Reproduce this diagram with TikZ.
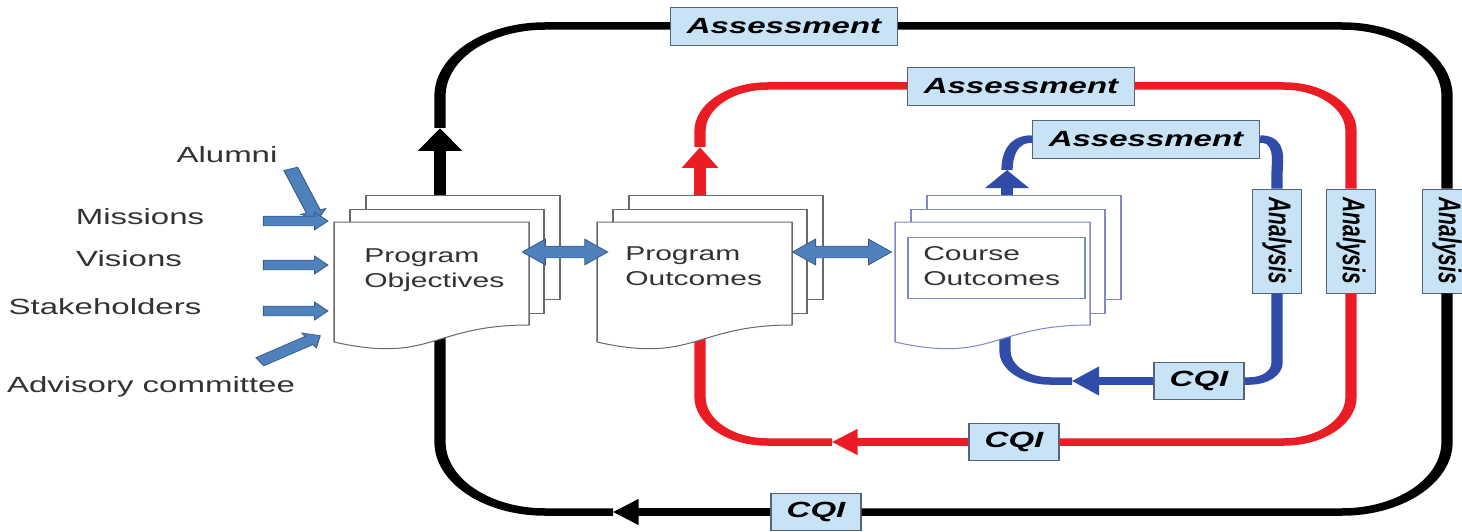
\documentclass[tikz,border=0pt]{standalone}
\usepackage{fontspec}
\setmainfont{Liberation Sans}
\usepackage{graphicx}
\usetikzlibrary{arrows.meta,shapes.arrows}

\definecolor{tagfill}{RGB}{200,227,246}
\definecolor{tagedge}{RGB}{85,100,125}
\definecolor{loopred}{RGB}{236,28,36}
\definecolor{loopblue}{RGB}{46,76,168}
\definecolor{fatblue}{RGB}{79,129,189}
\definecolor{fatedge}{RGB}{56,93,138}
\definecolor{pagegray}{RGB}{105,105,105}
\definecolor{pagelav}{RGB}{128,136,200}
\definecolor{inktext}{RGB}{50,50,50}

% stack of three pages, #1,#2 = top left corner of the front page
\newcommand{\docpages}[3]{%
  \draw[#3,fill=white,line width=1pt] (#1+32,#2-27) rectangle (#1+226,#2+77);
  \draw[#3,fill=white,line width=1pt] (#1+16,#2-13) rectangle (#1+210,#2+91);
  \draw[#3,fill=white,line width=1pt] (#1,#2) -- (#1+195,#2) -- (#1+195,#2+103)
    .. controls (#1+97.5,#2+103) and (#1+97.5,#2+142) .. (#1,#2+120) -- cycle;
}

\tikzset{
  stagebox/.style={draw=tagedge,fill=tagfill,line width=0.9pt,inner sep=0pt,text=black,
    font=\fontsize{22}{22}\selectfont\bfseries\itshape},
  assess/.style={stagebox,minimum width=151pt,minimum height=38pt},
  cqi/.style={stagebox,minimum width=60pt,minimum height=37pt},
  analysis/.style={stagebox,minimum width=33pt,minimum height=104pt,
    font=\fontsize{21}{21}\selectfont\bfseries\itshape},
  blackloop/.style={line width=7.5pt,black},
  redloop/.style={line width=7.5pt,loopred},
  blueloop/.style={line width=7.5pt,loopblue},
  doctext/.style={anchor=west,inner sep=0pt,align=left,text=inktext,
    font=\fontsize{20}{24.5}\selectfont},
  srclabel/.style={anchor=base,inner sep=0pt,text=inktext,font=\fontsize{22}{22}\selectfont},
  feed/.style={single arrow,draw=fatedge,fill=fatblue,line width=0.7pt,minimum height=43pt,
    inner xsep=0pt,inner ysep=4.5pt,single arrow head extend=4pt},
  link/.style={double arrow,draw=fatedge,fill=fatblue,line width=0.7pt,
    inner xsep=0pt,inner ysep=5.5pt,double arrow head extend=7pt,double arrow tip angle=80},
}

\begin{document}
\begin{tikzpicture}
\useasboundingbox (0,0) rectangle (1462pt,-532pt);
\begin{scope}[transform canvas={xscale=1.5},x=0.666667pt,y=-1pt]
  % labels on the loops
  \node[assess] (bA) at (784,26) {Assessment};
  \node[assess] (rA) at (1021,86) {Assessment};
  \node[assess] (uA) at (1146,139) {Assessment};
  \node[analysis] (bN) at (1447,241) {\rotatebox{-90}{Analysis}};
  \node[analysis] (rN) at (1351,241) {\rotatebox{-90}{Analysis}};
  \node[analysis] (uN) at (1277,241) {\rotatebox{-90}{Analysis}};
  \node[cqi] (bC) at (816,512) {CQI};
  \node[cqi] (rC) at (1014,442) {CQI};
  \node[cqi] (uC) at (1199,381) {CQI};

  \coordinate (bTip) at (613,512);
  \coordinate (bLeft) at (440,300);
  \coordinate (bUp) at (440,128);
  \coordinate (rTip) at (832,442);
  \coordinate (rLeft) at (700,300);
  \coordinate (rUp) at (700,147);
  \coordinate (uTip) at (1072,381);
  \coordinate (uBot) at (1005,330);
  \coordinate (uBase) at (1007,205);
  \coordinate (uUp) at (1007,170);
  \coordinate (uTurn) at (1277,175);

  % outer loop
  \draw[blackloop,-{Triangle[width=25pt,length=17pt]}] (bC.west) -- (bTip);
  \draw[blackloop,rounded corners=70pt] (bTip) -| (bLeft);
  \draw[blackloop,-{Triangle[width=28pt,length=23pt]}] (bLeft) -- (bUp);
  \draw[blackloop,rounded corners=70pt] (bUp) |- (bA.west);
  \draw[blackloop,rounded corners=70pt] (bA.east) -| (bN.north);
  \draw[blackloop,rounded corners=70pt] (bN.south) |- (bC.east);

  % middle loop
  \draw[redloop,-{Triangle[width=25pt,length=17pt]}] (rC.west) -- (rTip);
  \draw[redloop,rounded corners=45pt] (rTip) -| (rLeft);
  \draw[redloop,-{Triangle[width=23pt,length=21pt]}] (rLeft) -- (rUp);
  \draw[redloop,rounded corners=45pt] (rUp) |- (rA.west);
  \draw[redloop,rounded corners=45pt] (rA.east) -| (rN.north);
  \draw[redloop,rounded corners=45pt] (rN.south) |- (rC.east);

  % inner loop
  \draw[blueloop,-{Triangle[width=28pt,length=18pt]}] (uC.west) -- (uTip);
  \draw[blueloop,rounded corners=30pt] (uTip) -| (uBot);
  \draw[blueloop,-{Triangle[width=28pt,length=18pt]}] (uBase) -- (uUp);
  \draw[blueloop] (uUp) to[out=90,in=180] (uA.west);
  \draw[blueloop] (uA.east) to[out=0,in=90] (uTurn) -- (uN.north);
  \draw[blueloop,rounded corners=18pt] (uN.south) |- (uC.east);

  % documents
  \docpages{334}{222}{pagegray}
  \docpages{597}{222}{pagegray}
  \docpages{895}{222}{pagelav}
  \draw[pagelav,line width=1pt] (908,237) rectangle (1085,298);
  \node[doctext] (po) at (364,270) {Program\\Objectives};
  \node[doctext] (pout) at (625,266) {Program\\Outcomes};
  \node[doctext] (cout) at (923,266) {Course\\Outcomes};

  \node[link,minimum height=57pt] (poLink) at (565,252) {};
  \node[link,minimum height=66pt] (coLink) at (842,252) {};

  % inputs
  \node[srclabel] (alumni) at (227,163) {Alumni};
  \node[srclabel] (missions) at (140,224) {Missions};
  \node[srclabel] (visions) at (129,266) {Visions};
  \node[srclabel] (stake) at (105,314) {Stakeholders};
  \node[srclabel] (advisory) at (151,392) {Advisory committee};
  \node[feed,rotate=-70.6,minimum height=54pt] (alumniIn) at (303,192) {};
  \node[feed] (missionsIn) at (292,221) {};
  \node[feed] (visionsIn) at (292,265) {};
  \node[feed] (stakeIn) at (292,311) {};
  \node[feed,rotate=33,minimum height=48pt] (advisoryIn) at (287,350) {};
\end{scope}
\end{tikzpicture}
\end{document}
